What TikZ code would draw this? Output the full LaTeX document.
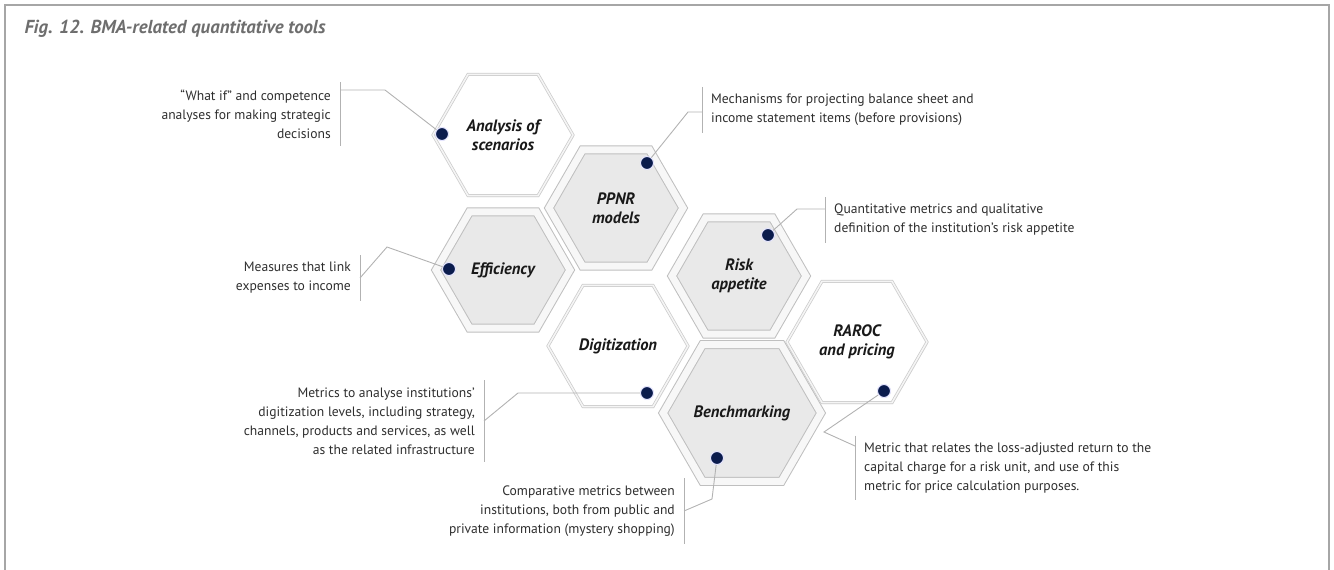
\documentclass[tikz,border=0pt]{standalone}
\usepackage{fontspec}
\setmainfont{PT Sans}
\usepackage{tikz}
\usetikzlibrary{shapes,shadows}
\usepackage{xcolor}
\definecolor{navy}{HTML}{0B1C4D}
\definecolor{txtgray}{HTML}{2E2E2E}
\definecolor{figgray}{HTML}{6E6E6E}

\begin{document}
\begin{tikzpicture}[x=1pt,y=-1pt,
        hexgray/.style={regular polygon,regular polygon sides=6,minimum size=134pt,inner sep=0pt,
                fill=gray!17,draw=gray!50,line width=9pt,postaction={draw=gray!6,line width=7pt},
                align=center,text=black!90,font=\fontsize{16.5}{19}\selectfont\bfseries\itshape},
        hexwhite/.style={regular polygon,regular polygon sides=6,minimum size=140pt,inner sep=0pt,
                fill=white,draw=gray!40,line width=3pt,postaction={draw=gray!8,line width=1.5pt},
                drop shadow={opacity=0.18,shadow xshift=1pt,shadow yshift=-1.5pt},
                align=center,text=black!90,font=\fontsize{16.5}{19}\selectfont\bfseries\itshape},
        dot/.style={circle,fill=navy,draw=blue!10,line width=1pt,minimum size=13pt,inner sep=0pt},
        note/.style={text=txtgray,font=\fontsize{13.6}{19}\selectfont,inner xsep=9pt,inner ysep=7pt},
        leader/.style={draw=gray!60,line width=0.9pt}]
        \useasboundingbox (0,0) rectangle (1334,570);
        \draw[gray!70,line width=1.5pt] (5,570) -- (5,5) -- (1329,5) -- (1329,570);
        \node[anchor=base west,text=figgray,font=\fontsize{18.8}{22}\selectfont\bfseries\itshape]
                (title) at (21,34) {Fig. 12. BMA-related quantitative tools};

        % honeycomb
        \node[hexwhite] (scen) at (503,135) {Analysis of\\scenarios};
        \node[hexgray] (ppnr) at (616,208) {PPNR\\models};
        \node[hexgray] (eff) at (503,270) {Efficiency};
        \node[hexgray] (risk) at (739,276) {Risk\\appetite};
        \node[hexwhite] (digit) at (618,346) {Digitization};
        \node[hexgray] (bench) at (742,413) {Benchmarking};
        \node[hexwhite] (raroc) at (857,342) {RAROC\\and pricing};

        \node[dot] (scen-d) at (442,134) {};
        \node[dot] (ppnr-d) at (647,163) {};
        \node[dot] (eff-d) at (449,269) {};
        \node[dot] (risk-d) at (768,235) {};
        \node[dot] (digit-d) at (647,393) {};
        \node[dot] (bench-d) at (717,458) {};
        \node[dot] (raroc-d) at (884,391) {};

        % notes
        \node[note,anchor=east,align=right] (scen-t) at (340,114)
                {“What if” and competence\\analyses for making strategic\\decisions};
        \node[note,anchor=west,align=left] (ppnr-t) at (702,110)
                {Mechanisms for projecting balance sheet and\\income statement items (before provisions)};
        \node[note,anchor=west,align=left] (risk-t) at (825,220)
                {Quantitative metrics and qualitative\\definition of the institution’s risk appetite};
        \node[note,anchor=east,align=right] (eff-t) at (360,278)
                {Measures that link\\expenses to income};
        \node[note,anchor=east,align=right] (digit-t) at (484,421)
                {Metrics to analyse institutions’\\digitization levels, including strategy,\\channels, products and services, as well\\as the related infrastructure};
        \node[note,anchor=east,align=right] (bench-t) at (684,511)
                {Comparative metrics between\\institutions, both from public and\\private information (mystery shopping)};
        \node[note,anchor=west,align=left] (raroc-t) at (855,468)
                {Metric that relates the loss-adjusted return to the\\capital charge for a risk unit, and use of this\\metric for price calculation purposes.};

        \draw[leader] (scen-t.north east) -- (scen-t.south east);
        \draw[leader] (ppnr-t.north west) -- (ppnr-t.south west);
        \draw[leader] (risk-t.north west) -- (risk-t.south west);
        \draw[leader] (eff-t.north east) -- (eff-t.south east);
        \draw[leader] (digit-t.north east) -- (digit-t.south east);
        \draw[leader] (bench-t.north east) -- (bench-t.south east);
        \draw[leader] (raroc-t.north west) -- (raroc-t.south west);

        % leader lines
        \coordinate (scen-k) at (385,90);
        \coordinate (ppnr-k) at (688,112);
        \coordinate (risk-k) at (797,209);
        \coordinate (eff-k) at (387,247);
        \coordinate (digit-k) at (518,393);
        \coordinate (bench-k) at (712,499);
        \coordinate (raroc-k) at (824,432);
        \coordinate (raroc-s) at (855,446);
        \draw[leader] (scen-t.east |- scen-k) -- (scen-k) -- (scen-d);
        \draw[leader] (ppnr-t.west |- ppnr-k) -- (ppnr-k) -- (ppnr-d);
        \draw[leader] (risk-t.west |- risk-k) -- (risk-k) -- (risk-d);
        \draw[leader] (eff-t.east) -- (eff-k) -- (eff-d);
        \draw[leader] (digit-t.east) -- (digit-k) -- (digit-d);
        \draw[leader] (bench-t.east) -- (bench-k) -- (bench-d);
        \draw[leader] (raroc-s) -- (raroc-k) -- (raroc-d);
        \end{tikzpicture}
\end{document}
